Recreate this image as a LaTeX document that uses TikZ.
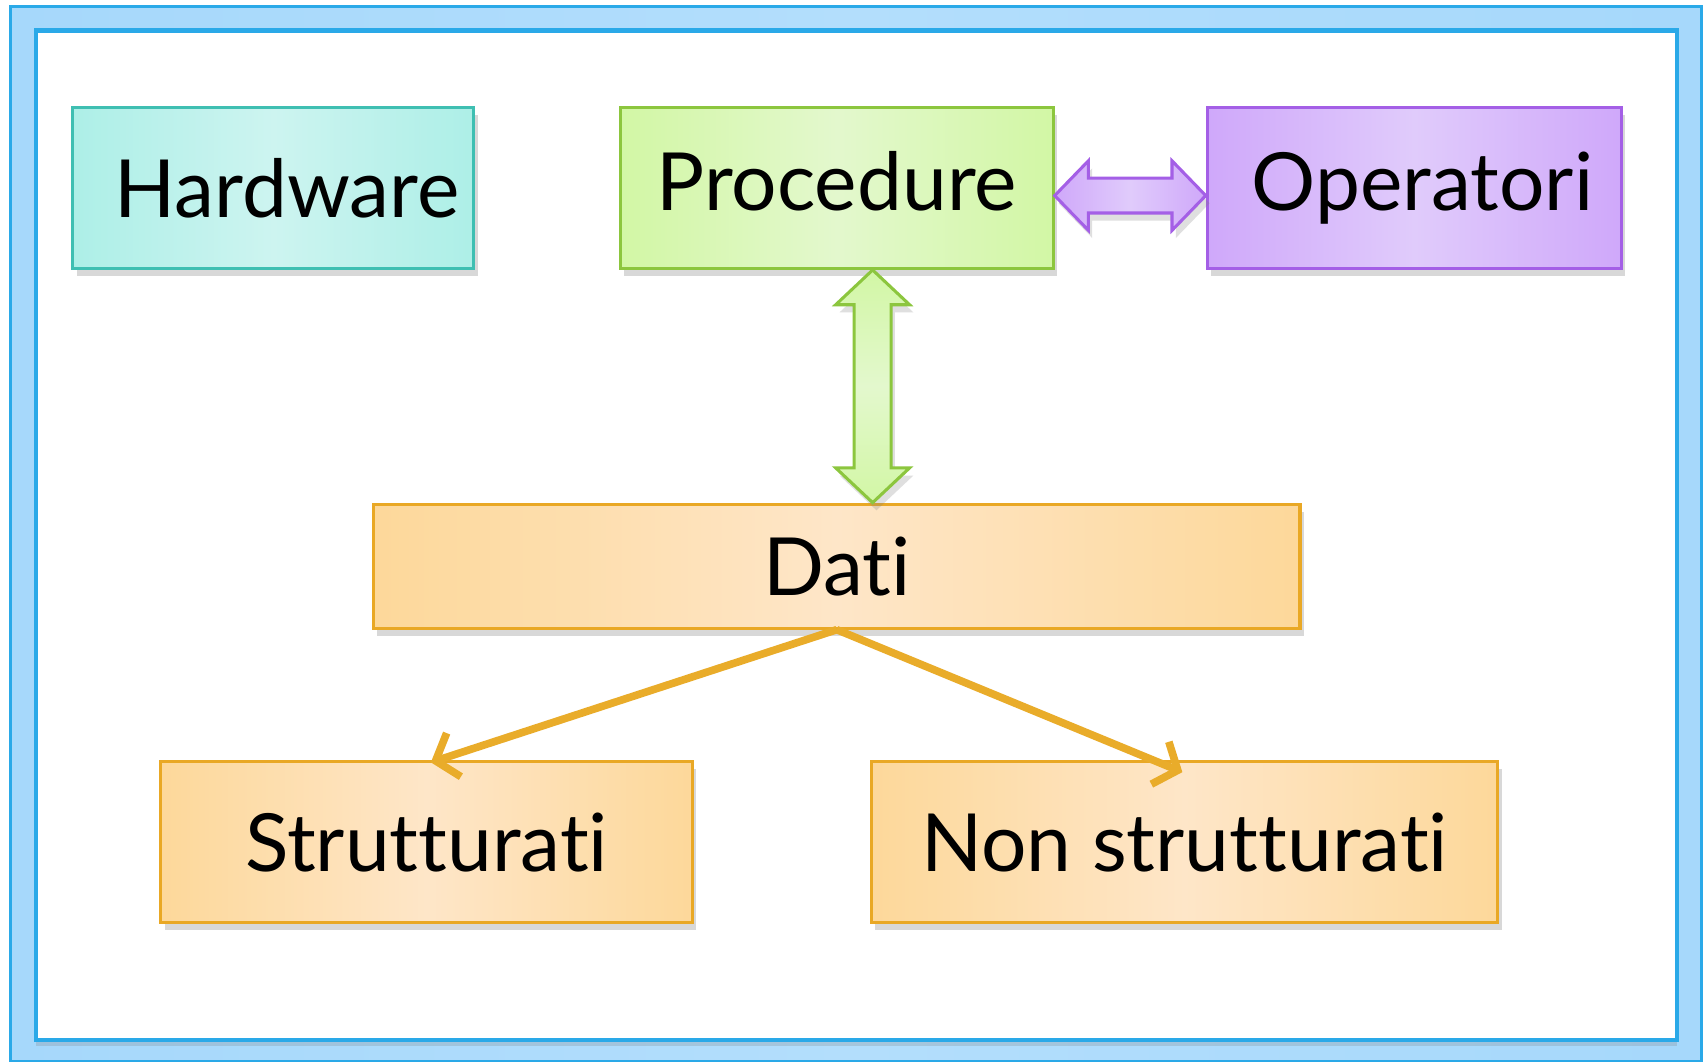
\documentclass[tikz,border=0pt]{standalone}
\usepackage{fontspec}
\setmainfont[Ligatures=NoCommon]{Lato}
\usetikzlibrary{shadows,arrows.meta,calc}
\definecolor{framefill}{HTML}{A6D8FB}
\definecolor{framefillb}{HTML}{B3DEFC}
\definecolor{frameline}{HTML}{2AA9E8}
\definecolor{hwedge}{HTML}{ADEFE7}
\definecolor{hwmid}{HTML}{CDF4F0}
\definecolor{hwline}{HTML}{3FBFB2}
\definecolor{predge}{HTML}{D2F7A5}
\definecolor{prmid}{HTML}{E3F8CD}
\definecolor{prline}{HTML}{8CC63E}
\definecolor{opedge}{HTML}{CFA8FA}
\definecolor{opmid}{HTML}{E0CBFB}
\definecolor{opline}{HTML}{A45FE6}
\definecolor{daedge}{HTML}{FDD89A}
\definecolor{damid}{HTML}{FEE6C8}
\definecolor{daline}{HTML}{E9A825}
\definecolor{arrorange}{HTML}{E9AC2A}
\tikzset{
  box/.style={draw, line width=0.8pt, rectangle, inner sep=0pt,
    font=\fontsize{21}{25}\selectfont,
    drop shadow={opacity=0.3, shadow xshift=1pt, shadow yshift=-2pt}},
  hwbox/.style={box, draw=hwline, left color=hwedge, right color=hwedge, middle color=hwmid},
  prbox/.style={box, draw=prline, left color=predge, right color=predge, middle color=prmid},
  opbox/.style={box, draw=opline, left color=opedge, right color=opedge, middle color=opmid},
  dabox/.style={box, draw=daline, left color=daedge, right color=daedge, middle color=damid},
  linkarrow/.style={draw=arrorange, line width=2pt, -{Straight Barb[length=5pt,width=12pt,line width=2pt]}},
}
\begin{document}
\begin{tikzpicture}[x=0.01cm,y=-0.01cm]
\useasboundingbox (0,0) rectangle (1568,977);
% frame
\draw[frameline, line width=0.8pt, left color=framefill, right color=framefill, middle color=framefillb] (10,6) rectangle (1566,977);
\draw[frameline, line width=1.2pt, fill=white, drop shadow={opacity=0.25, shadow xshift=0pt, shadow yshift=-1.5pt}] (33,28) rectangle (1543,957);
% boxes
\node[hwbox, minimum width=3.69cm, minimum height=1.48cm] (hw) at (251.5,173) {\hspace{0.25cm}Hardware};
\node[prbox, minimum width=3.98cm, minimum height=1.48cm] (pr) at (770,173) {Procedure\vphantom{p}};
\node[opbox, minimum width=3.81cm, minimum height=1.48cm] (op) at (1301.5,173) {\hspace{0.15cm}Operatori};
\node[dabox, minimum width=8.52cm, minimum height=1.14cm] (da) at (770,521) {Dati};
\node[dabox, minimum width=4.89cm, minimum height=1.48cm] (st) at (392.5,775) {Strutturati};
\node[dabox, minimum width=5.76cm, minimum height=1.48cm] (ns) at (1090,775) {Non strutturati};
% horizontal double arrow
\coordinate (hl) at ($(pr.east)+(0,7)$);
\coordinate (hr) at ($(op.west)+(0,7)$);
\draw[opline, line width=0.8pt, left color=opedge, right color=opedge, middle color=opmid,
  drop shadow={opacity=0.25, shadow xshift=1pt, shadow yshift=-2pt}]
  (hl) -- ++(31,-32) -- ++(0,16) -- ($(hr)+(-31,-16)$) -- ++(0,-16) -- (hr)
  -- ++(-31,32) -- ++(0,-16) -- ($(hl)+(31,16)$) -- ++(0,16) -- cycle;
% vertical double arrow
\coordinate (vt) at ($(pr.south)+(33,0)$);
\coordinate (vb) at ($(da.north)+(33,0)$);
\draw[prline, line width=0.8pt, top color=predge, bottom color=predge, middle color=prmid,
  drop shadow={opacity=0.25, shadow xshift=1pt, shadow yshift=-2pt}]
  (vt) -- ++(34,32) -- ++(-17,0) -- ($(vb)+(17,-32)$) -- ++(17,0) -- (vb)
  -- ++(-34,-32) -- ++(17,0) -- ($(vt)+(-17,32)$) -- ++(-17,0) -- cycle;
% links
\draw[linkarrow] (da.south) -- ($(st.north)+(4,2)$);
\draw[linkarrow] (da.south) -- ($(ns.north)+(-2,11)$);
\end{tikzpicture}
\end{document}
